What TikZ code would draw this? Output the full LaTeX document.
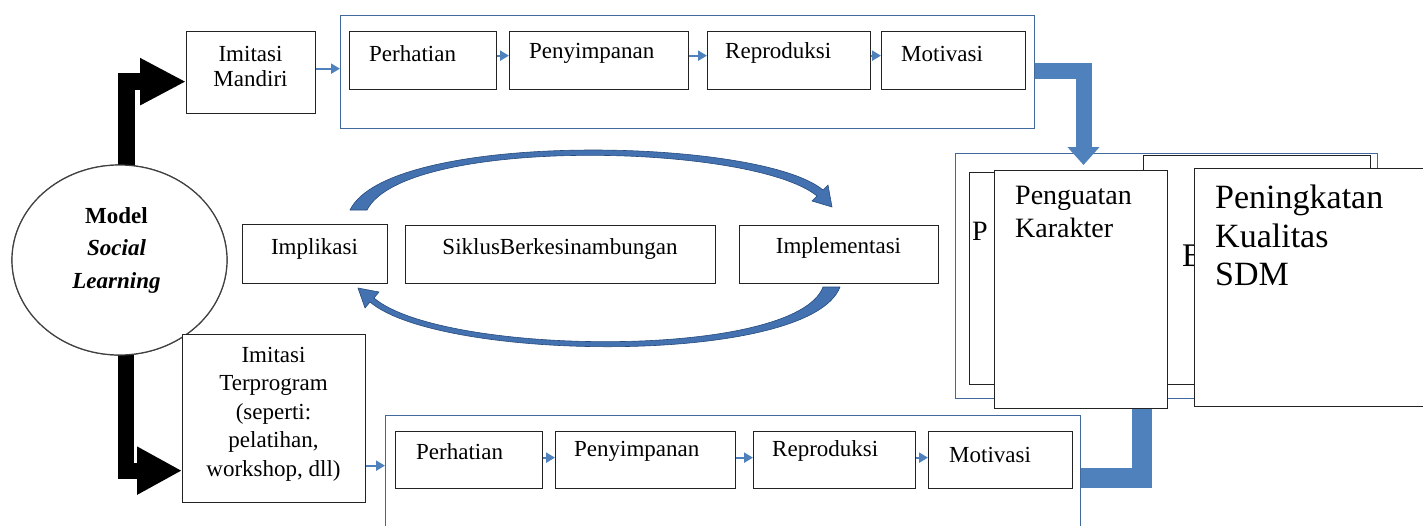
\documentclass[tikz,border=0pt]{standalone}
\usepackage{fontspec}
\setmainfont{Liberation Serif}
\usetikzlibrary{arrows.meta,shapes.geometric,calc}
\definecolor{oblue}{RGB}{65,105,155}
\definecolor{bandblue}{RGB}{79,129,189}
\definecolor{arcblue}{RGB}{68,114,176}
\definecolor{arcdark}{RGB}{38,74,124}
\definecolor{boxline}{RGB}{35,35,35}
\begin{document}
\begin{tikzpicture}[x=1pt,y=-1pt,
  box/.style={draw=boxline,line width=1.3pt,fill=white,rectangle,inner sep=0pt,anchor=north west},
  obox/.style={draw=oblue,line width=1.4pt,rectangle,inner sep=0pt,anchor=north west},
  txt/.style={inner sep=0pt,font=\fontsize{23}{27.5}\selectfont},
  lbl/.style={txt,anchor=base west},
  clbl/.style={txt,anchor=base},
  sarrow/.style={draw=bandblue,line width=2.2pt,-{Triangle[width=10pt,length=9pt]}},
  band/.style={draw=bandblue,line width=16pt},
  blackarr/.style={draw=black,line width=17pt},
  arcshape/.style={fill=arcblue,draw=arcdark,line width=0.6pt,line join=round}
]
\useasboundingbox (0,0) rectangle (1423,525);

% ---------- left: model circle and imitation boxes ----------
\node[draw=black!75,line width=1.2pt,fill=white,ellipse,minimum width=215pt,minimum height=190pt,inner sep=0pt] (model) at (119.5,260) {};
\node[box,minimum width=129pt,minimum height=82pt] (imm) at (186,31) {};
\node[box,minimum width=183pt,minimum height=168pt] (imt) at (182,334) {};

\draw[blackarr,-{Triangle[width=44pt,length=46pt]}] ([xshift=7pt,yshift=-3pt]model.north) |- ([yshift=-9pt]imm.west);
\draw[blackarr,line width=16pt,-{Triangle[width=45pt,length=45pt]}] ([xshift=6pt,yshift=3pt]model.south) |- ([yshift=-52pt]imt.west);
% redraw circle and box above the arrow bars
\node[draw=black!75,line width=1.2pt,fill=white,ellipse,minimum width=215pt,minimum height=190pt,inner sep=0pt] (model2) at (119.5,260) {};
\node[box,minimum width=183pt,minimum height=168pt] (imt2) at (182,334) {};

\node[inner sep=0pt,anchor=north,align=center,font=\bfseries\fontsize{23}{32.5}\selectfont] (mtxt) at (116.5,207) {Model\\\textit{Social}\\\textit{Learning}};
\node[txt,anchor=north,align=center,font=\fontsize{23}{25}\selectfont] (immt) at (250.5,46) {Imitasi\\Mandiri};
\node[txt,anchor=north,align=center,font=\fontsize{23}{28.5}\selectfont] (imtt) at (273.5,347) {Imitasi\\Terprogram\\(seperti:\\pelatihan,\\workshop, dll)};

% ---------- top row ----------
\node[obox,minimum width=694pt,minimum height=113pt] (tob) at (340,15) {};
\node[box,minimum width=147pt,minimum height=58pt] (p1) at (349,31) {};
\node[box,minimum width=179pt,minimum height=58pt] (p2) at (509,31) {};
\node[box,minimum width=163pt,minimum height=58pt] (p3) at (707,31) {};
\node[box,minimum width=144pt,minimum height=58pt] (p4) at (881,31) {};
\node[lbl] (p1t) at (369,61) {Perhatian};
\node[lbl] (p2t) at (529,58) {Penyimpanan};
\node[lbl] (p3t) at (725,58) {Reproduksi};
\node[lbl] (p4t) at (901,61) {Motivasi};
\draw[sarrow] ([yshift=4pt]imm.east) -- ([yshift=4pt]imm.east -| tob.west);
\draw[sarrow] ([yshift=5pt]p1.east) -- ([yshift=5pt]p1.east -| p2.west);
\draw[sarrow] ([yshift=5pt]p2.east) -- ([yshift=5pt]p2.east -| p3.west);
\draw[sarrow] ([yshift=5pt]p3.east) -- ([yshift=5pt]p3.east -| p4.west);

% ---------- middle cycle ----------
\node[box,minimum width=145pt,minimum height=59pt] (impl) at (242,224) {};
\node[box,minimum width=310pt,minimum height=58pt] (sik) at (405,225) {};
\node[box,minimum width=199pt,minimum height=58pt] (impt) at (739,225) {};
\node[clbl] (implt) at (314.5,254) {Implikasi};
\node[clbl] (sikt) at (560,254) {SiklusBerkesinambungan};
\node[clbl] (imptt) at (838.5,253) {Implementasi};
\path[arcshape] (350,210) .. controls (389,130) and (760,137) .. (823,190) -- (828,185) -- (832,207) -- (812,201) -- (817,196) .. controls (752,143) and (405,136) .. (367,210) -- cycle;
\path[arcshape] (823,287) .. controls (795,360) and (442,356) .. (374,298) -- (379,292) -- (358,288) -- (365,308) -- (370,302) .. controls (440,362) and (810,366) .. (840,287) -- cycle;

% ---------- bottom row ----------
\node[obox,minimum width=695pt,minimum height=130pt] (bob) at (385,415) {};
\node[box,minimum width=147pt,minimum height=57pt] (q1) at (395,431) {};
\node[box,minimum width=180pt,minimum height=57pt] (q2) at (555,431) {};
\node[box,minimum width=162pt,minimum height=57pt] (q3) at (753,431) {};
\node[box,minimum width=144pt,minimum height=57pt] (q4) at (928,431) {};
\node[lbl] (q1t) at (416,459) {Perhatian};
\node[lbl] (q2t) at (574,456) {Penyimpanan};
\node[lbl] (q3t) at (772,456) {Reproduksi};
\node[lbl] (q4t) at (949,462) {Motivasi};
\draw[sarrow] ([yshift=-47pt]imt.east) -- ([yshift=-47pt]imt.east -| bob.west);
\draw[sarrow] ([yshift=2.5pt]q1.east) -- ([yshift=2.5pt]q1.east -| q2.west);
\draw[sarrow] ([yshift=2.5pt]q2.east) -- ([yshift=2.5pt]q2.east -| q3.west);
\draw[sarrow] ([yshift=2.5pt]q3.east) -- ([yshift=2.5pt]q3.east -| q4.west);

% ---------- right: outcome boxes ----------
\node[obox,minimum width=422pt,minimum height=245pt] (rblue) at (955,153) {};
\node[box,minimum width=181pt,minimum height=212pt] (rb1) at (969,172) {};
\node[box,minimum width=227pt,minimum height=229pt] (rb2) at (1143,155) {};
\node[anchor=base west,inner sep=0pt,font=\fontsize{28}{33}\selectfont] (hp) at (972,240) {P};
\node[anchor=base west,inner sep=0pt,font=\fontsize{33}{38}\selectfont] (hb) at (1182,266) {B};

\draw[band,-{Triangle[width=31pt,length=18pt]}] (tob.east |- 0,70.5) -| (1083.5,165);
\draw[band,line width=20pt] (1081,478) -| (1141.5,395);

\node[box,minimum width=173pt,minimum height=238pt] (pk) at (994,170) {};
\node[box,minimum width=250pt,minimum height=238pt] (pq) at (1194,168) {};
\node[inner sep=0pt,anchor=north west,align=left,font=\fontsize{28}{33}\selectfont] (pkt) at (1015,185.5) {Penguatan\\Karakter};
\node[inner sep=0pt,anchor=north west,align=left,font=\fontsize{34}{38.5}\selectfont] (pqt) at (1215,185) {Peningkatan\\Kualitas\\SDM};
\end{tikzpicture}
\end{document}
